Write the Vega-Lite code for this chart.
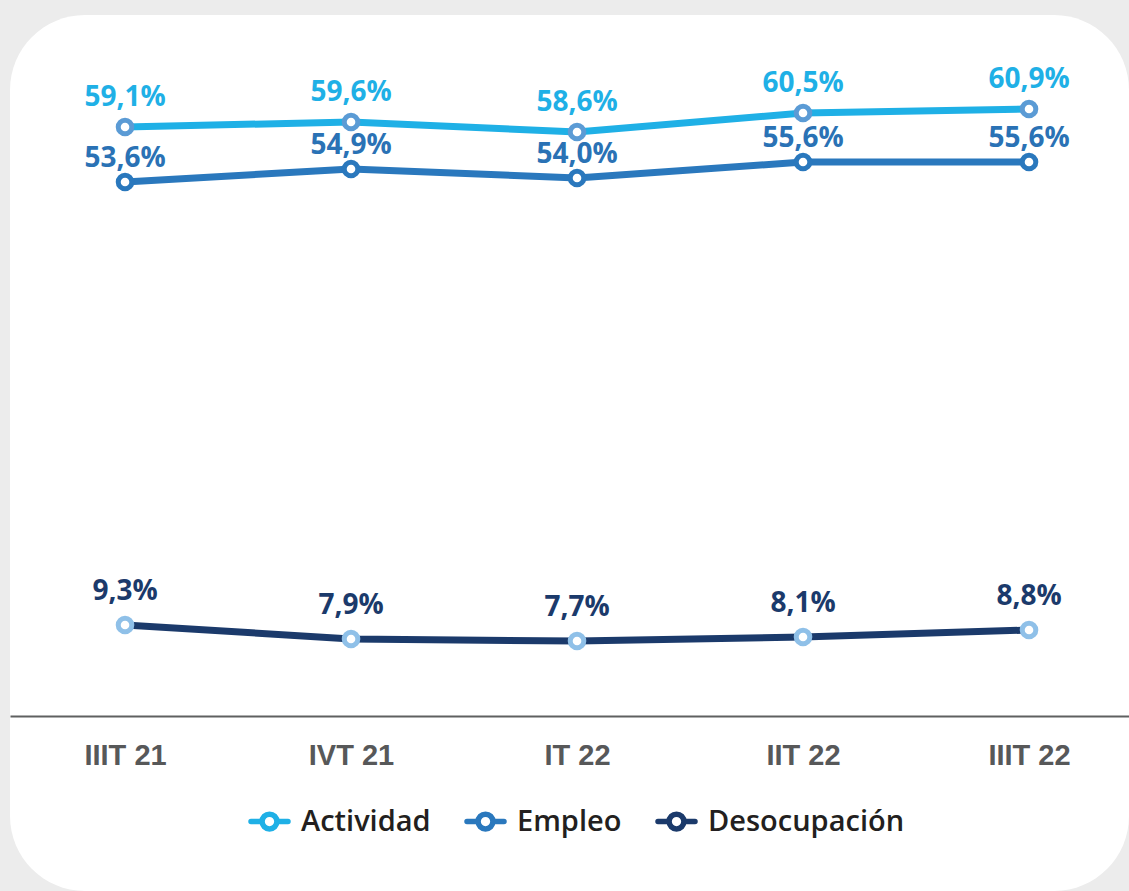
{
  "$schema": "https://vega.github.io/schema/vega-lite/v6.json",
  "width": 1119,
  "height": 876,
  "autosize": {"type": "none"},
  "padding": {"left": 10, "top": 15, "right": 0, "bottom": 0},
  "background": "#ececec",
  "config": {
    "view": {"fill": "white", "stroke": null, "cornerRadius": 75}
  },
  "data": {
    "values": [
      {"trimestre": "IIIT 21", "serie": "Actividad", "valor": 59.1, "etiqueta": "59,1%"},
      {"trimestre": "IVT 21", "serie": "Actividad", "valor": 59.6, "etiqueta": "59,6%"},
      {"trimestre": "IT 22", "serie": "Actividad", "valor": 58.6, "etiqueta": "58,6%"},
      {"trimestre": "IIT 22", "serie": "Actividad", "valor": 60.5, "etiqueta": "60,5%"},
      {"trimestre": "IIIT 22", "serie": "Actividad", "valor": 60.9, "etiqueta": "60,9%"},
      {"trimestre": "IIIT 21", "serie": "Empleo", "valor": 53.6, "etiqueta": "53,6%"},
      {"trimestre": "IVT 21", "serie": "Empleo", "valor": 54.9, "etiqueta": "54,9%"},
      {"trimestre": "IT 22", "serie": "Empleo", "valor": 54.0, "etiqueta": "54,0%"},
      {"trimestre": "IIT 22", "serie": "Empleo", "valor": 55.6, "etiqueta": "55,6%"},
      {"trimestre": "IIIT 22", "serie": "Empleo", "valor": 55.6, "etiqueta": "55,6%"},
      {"trimestre": "IIIT 21", "serie": "Desocupación", "valor": 9.3, "etiqueta": "9,3%"},
      {"trimestre": "IVT 21", "serie": "Desocupación", "valor": 7.9, "etiqueta": "7,9%"},
      {"trimestre": "IT 22", "serie": "Desocupación", "valor": 7.7, "etiqueta": "7,7%"},
      {"trimestre": "IIT 22", "serie": "Desocupación", "valor": 8.1, "etiqueta": "8,1%"},
      {"trimestre": "IIIT 22", "serie": "Desocupación", "valor": 8.8, "etiqueta": "8,8%"}
    ]
  },
  "encoding": {
    "x": {
      "field": "trimestre",
      "type": "ordinal",
      "scale": {"type": "point", "domain": ["IIIT 21", "IVT 21", "IT 22", "IIT 22", "IIIT 22"], "padding": 0.4757, "align": 0.535},
      "axis": {
        "title": null,
        "offset": -175,
        "ticks": false,
        "tickSize": 0,
        "grid": false,
        "domainColor": "#5f6060",
        "domainWidth": 2,
        "labelFont": "Liberation Sans",
        "labelFontWeight": "bold",
        "labelFontSize": 29,
        "labelColor": "#575859",
        "labelPadding": 39,
        "labelBaseline": "middle",
        "labelAngle": 0
      }
    },
    "y": {
      "field": "valor",
      "type": "quantitative",
      "scale": {"domain": [-17.3, 70.3], "nice": false, "zero": false},
      "axis": null
    }
  },
  "layer": [
    {
      "mark": {"type": "line", "strokeWidth": 7},
      "encoding": {
        "color": {
          "field": "serie",
          "type": "nominal",
          "scale": {"domain": ["Actividad", "Empleo", "Desocupación"], "range": ["#1fb0e6", "#2a78bd", "#1b3a6b"]},
          "legend": {
            "title": null,
            "orient": "none",
            "direction": "horizontal",
            "legendX": 238,
            "legendY": 785,
            "symbolType": "M-1,0L-0.4,0M0.4,0L1,0M-0.4,0A0.4,0.4,0,1,1,0.4,0A0.4,0.4,0,1,1,-0.4,0Z",
            "symbolSize": 1369,
            "symbolStrokeWidth": 5,
            "labelFont": "Open Sans",
            "labelFontWeight": 600,
            "labelFontSize": 29,
            "labelColor": "#231f20",
            "labelOffset": 10,
            "labelLimit": 400,
            "columnPadding": 25,
            "encode": {
              "symbols": {"update": {"fill": {"value": "white"}, "stroke": {"scale": "color", "field": "value"}, "strokeCap": {"value": "round"}, "strokeWidth": {"value": 5.5}}}
            }
          }
        }
      }
    },
    {
      "mark": {"type": "point", "shape": "circle", "filled": true, "fill": "white", "size": 185, "strokeWidth": 5, "opacity": 1},
      "encoding": {
        "stroke": {
          "field": "serie",
          "type": "nominal",
          "scale": {"domain": ["Actividad", "Empleo", "Desocupación"], "range": ["#5b9bd5", "#2a78bd", "#8fc0e8"]},
          "legend": null
        }
      }
    },
    {
      "transform": [{"filter": "datum.serie === 'Actividad'"}],
      "mark": {"type": "text", "font": "Open Sans", "fontWeight": "bold", "fontSize": 28, "color": "#1fb0e6", "baseline": "middle", "dy": -29},
      "encoding": {"text": {"field": "etiqueta"}}
    },
    {
      "transform": [{"filter": "datum.serie === 'Empleo'"}],
      "mark": {"type": "text", "font": "Open Sans", "fontWeight": "bold", "fontSize": 28, "color": "#2a72b5", "baseline": "middle", "dy": -23},
      "encoding": {"text": {"field": "etiqueta"}}
    },
    {
      "transform": [{"filter": "datum.serie === 'Desocupación'"}],
      "mark": {"type": "text", "font": "Open Sans", "fontWeight": "bold", "fontSize": 28, "color": "#1b3a6b", "baseline": "middle", "dy": -33},
      "encoding": {"text": {"field": "etiqueta"}}
    }
  ]
}
